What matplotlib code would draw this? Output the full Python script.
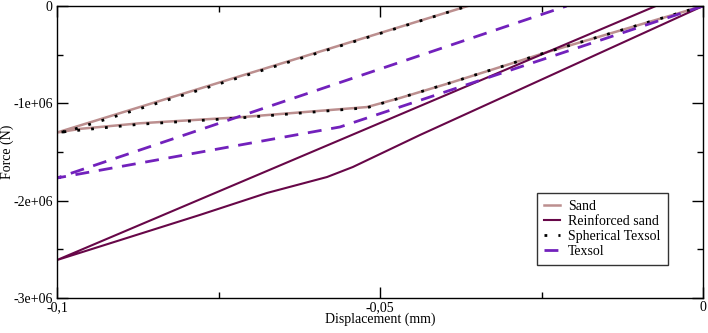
import matplotlib
matplotlib.use("Agg")
import matplotlib.pyplot as plt
from matplotlib.ticker import MultipleLocator

plt.rcParams['font.family'] = ['Liberation Serif', 'DejaVu Serif']
plt.rcParams['axes.unicode_minus'] = False

# Sand: loading path then unloading
sand_x = [0.0, -0.0241, -0.0299, -0.0392, -0.0469, -0.0520, -0.0717, -0.0872, -0.0964, -0.1, -0.0364]
sand_y = [0.0, -0.473e6, -0.596e6, -0.791e6, -0.945e6, -1.038e6, -1.143e6, -1.205e6, -1.262e6, -1.30e6, 0.0]

# Reinforced sand
reinf_x = [0.0, -0.0438, -0.0542, -0.0582, -0.0675, -0.0779, -0.1, -0.0073]
reinf_y = [0.0, -1.325e6, -1.654e6, -1.757e6, -1.921e6, -2.147e6, -2.61e6, 0.0]

# Spherical Texsol
sph_x = [0.0, -0.0241, -0.0299, -0.0392, -0.0469, -0.0520, -0.0717, -0.0872, -0.0964, -0.1, -0.0985, -0.0364]
sph_y = [0.0, -0.473e6, -0.596e6, -0.791e6, -0.945e6, -1.045e6, -1.15e6, -1.215e6, -1.275e6, -1.30e6, -1.29e6, 0.0]

# Texsol
tex_x = [0.0, -0.0562, -0.1, -0.0211]
tex_y = [0.0, -1.243e6, -1.767e6, 0.0]

x_ticks = [-0.1, -0.05, 0.0]
x_labels = ["-0,1", "-0,05", "0"]
y_ticks = [0.0, -1e6, -2e6, -3e6]
y_labels = ["0", "-1e+06", "-2e+06", "-3e+06"]

fig = plt.figure(figsize=(7.08, 3.33), dpi=100)
ax = fig.add_axes([57/708, 35/333, 646/708, 292/333])

ax.plot(sand_x, sand_y, color=(188/255, 143/255, 143/255), lw=1.8, label="Sand")
ax.plot(reinf_x, reinf_y, color=(103/255, 7/255, 72/255), lw=1.5, label="Reinforced sand")
ax.plot(sph_x, sph_y, color="black", lw=2.0, linestyle=(0, (1, 4)),
        dash_capstyle="butt", label="Spherical Texsol")
ax.plot(tex_x, tex_y, color=(114/255, 33/255, 188/255), lw=2.0, linestyle=(0, (5, 3.5)),
        dash_capstyle="butt", label="Texsol")

ax.set_xlim(-0.1, 0.0)
ax.set_ylim(-3e6, 0)
ax.set_xticks(x_ticks)
ax.set_xticklabels(x_labels)
ax.set_yticks(y_ticks)
ax.set_yticklabels(y_labels)
ax.xaxis.set_minor_locator(MultipleLocator(0.025))
ax.yaxis.set_minor_locator(MultipleLocator(0.5e6))
ax.tick_params(which="both", direction="in", top=True, right=True, labelsize=10)
ax.tick_params(axis="x", pad=2)
ax.tick_params(axis="y", pad=3)
ax.tick_params(which="major", length=8, width=1)
ax.tick_params(which="minor", length=4, width=1)
for s in ax.spines.values():
    s.set_linewidth(1.0)

ax.set_xlabel("Displacement (mm)", fontsize=10)
ax.set_ylabel("Force (N)", fontsize=10)
ax.xaxis.set_label_coords(0.5, -0.05)
ax.yaxis.set_label_coords(-0.067, 0.5)

leg = ax.legend(loc="upper left", bbox_to_anchor=(0.743, 0.3596), fontsize=10,
                frameon=True, fancybox=False, shadow=False, handlelength=1.15,
                handletextpad=0.6, labelspacing=0.15, borderpad=0.5, borderaxespad=0)
leg.get_frame().set_edgecolor("black")
leg.get_frame().set_linewidth(1.0)

fig.savefig("out.png", dpi=100)
